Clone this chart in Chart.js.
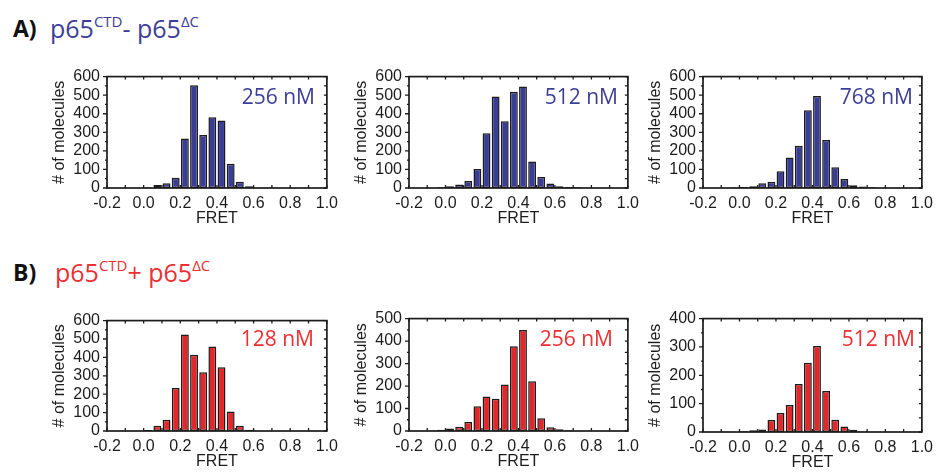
<!DOCTYPE html>
<html lang="en">
<head>
<meta charset="UTF-8">
<title>FRET histograms</title>
<script src="https://cdn.jsdelivr.net/npm/chart.js"></script>
<style>
  body { margin: 0; width: 937px; height: 472px; overflow: hidden; background: #fff; position: relative; font-family: "Open Sans", sans-serif; }
  canvas { position: absolute; }
  .hdr { position: absolute; font-size: 25px; line-height: 25px; white-space: nowrap; }
  .hdr b { position: absolute; left: 0; color: #111; font-size: 23px; }
  .hdr span { position: absolute; }
  .hdr sup { font-size: 15px; vertical-align: 11px; line-height: 0; }
  .blue { color: #3d3e97; }
  .red { color: #ec2f33; }
  .lbl { position: absolute; width: 120px; text-align: right; font-size: 21px; line-height: 21px; }
</style>
</head>
<body>

<div class="hdr" style="left:13px; top:16px;"><b>A)</b><span class="blue" style="left:37px;">p65<sup>CTD</sup>- p65<sup>&Delta;C</sup></span></div>
<div class="hdr" style="left:13px; top:260px;"><b>B)</b><span class="red" style="left:42px;">p65<sup>CTD</sup>+ p65<sup>&Delta;C</sup></span></div>

<canvas id="a1" width="297" height="168" style="left:47px; top:60px;"></canvas>
<canvas id="a2" width="296" height="168" style="left:349px; top:60px;"></canvas>
<canvas id="a3" width="296" height="168" style="left:643px; top:60px;"></canvas>
<canvas id="b1" width="297" height="167" style="left:47px; top:304px;"></canvas>
<canvas id="b2" width="296" height="169" style="left:349px; top:302px;"></canvas>
<canvas id="b3" width="296" height="170" style="left:643px; top:302px;"></canvas>

<div class="lbl blue" style="left:195px; top:86px;">256 nM</div>
<div class="lbl blue" style="left:498px; top:86px;">512 nM</div>
<div class="lbl blue" style="left:793px; top:86px;">768 nM</div>
<div class="lbl red" style="left:194px; top:328px;">128 nM</div>
<div class="lbl red" style="left:493px; top:328px;">256 nM</div>
<div class="lbl red" style="left:795px; top:328px;">512 nM</div>

<script>
// FRET bin centres (bin width 0.05)
const binCenters = [-0.175, -0.125, -0.075, -0.025, 0.025, 0.075, 0.125, 0.175,
                    0.225, 0.275, 0.325, 0.375, 0.425, 0.475, 0.525, 0.575,
                    0.625, 0.675, 0.725, 0.775, 0.825, 0.875, 0.925, 0.975];

// A) p65CTD - p65dC
const countsA256 = [0, 0, 0, 0, 3, 16, 26, 55, 266, 554, 286, 381, 364, 130, 34, 9, 2, 1, 1, 0, 0, 0, 0, 0];
const countsA512 = [0, 0, 0, 4, 10, 19, 38, 102, 295, 493, 360, 519, 547, 143, 59, 24, 10, 6, 4, 2, 0, 0, 0, 0];
const countsA768 = [0, 0, 2, 3, 6, 10, 26, 34, 90, 164, 228, 419, 495, 259, 112, 48, 15, 8, 4, 2, 0, 0, 0, 0];
// B) p65CTD + p65dC
const countsB128 = [0, 0, 0, 2, 5, 28, 61, 234, 525, 414, 319, 459, 347, 106, 28, 7, 2, 0, 0, 0, 0, 0, 0, 0];
const countsB256 = [0, 0, 2, 6, 11, 19, 40, 110, 153, 143, 207, 377, 449, 221, 57, 17, 8, 3, 0, 0, 0, 0, 0, 0];
const countsB512 = [0, 0, 0, 0, 3, 6, 9, 42, 67, 95, 169, 244, 303, 145, 43, 19, 8, 2, 0, 0, 0, 0, 0, 0];

const blueFill = '#3a3d96';
const redFill = '#e3262a';
const inkColor = '#1c1c1c';

// box around the plot with small tick marks like the original figure
const frameTicks = {
    id: 'frameTicks',
    afterDraw(chart) {
        const { ctx, chartArea: a, scales: { x, y } } = chart;
        ctx.save();
        ctx.strokeStyle = inkColor;
        ctx.lineWidth = 1.7;
        ctx.strokeRect(a.left, a.top, a.right - a.left, a.bottom - a.top);
        ctx.lineWidth = 1.3;
        ctx.beginPath();
        const xt = x.ticks.map(t => t.value);
        xt.forEach((v, i) => {
            const vals = [v];
            if (i < xt.length - 1) vals.push((v + xt[i + 1]) / 2);
            vals.forEach(val => {
                const px = x.getPixelForValue(val);
                ctx.moveTo(px, a.bottom); ctx.lineTo(px, a.bottom - 3);
                ctx.moveTo(px, a.top); ctx.lineTo(px, a.top + 3);
            });
        });
        const yt = y.ticks.map(t => t.value);
        yt.forEach((v, i) => {
            const py = y.getPixelForValue(v);
            ctx.moveTo(a.left, py); ctx.lineTo(a.left - 4, py);
            ctx.moveTo(a.right, py); ctx.lineTo(a.right - 3, py);
            if (i < yt.length - 1) {
                const pm = y.getPixelForValue((v + yt[i + 1]) / 2);
                ctx.moveTo(a.left, pm); ctx.lineTo(a.left - 2, pm);
                ctx.moveTo(a.right, pm); ctx.lineTo(a.right - 3, pm);
            }
        });
        ctx.stroke();
        ctx.restore();
    }
};

const tickFont = { family: 'Liberation Sans', size: 16 };

function makeHist(id, counts, fill, yMax) {
    let ctx = document.getElementById(id).getContext('2d');
    return new Chart(ctx, {
        type: 'bar',
        data: {
            datasets: [{
                data: binCenters.map((c, i) => ({ x: c, y: counts[i] })),
                backgroundColor: fill,
                borderColor: inkColor,
                borderWidth: 1.5,
                borderSkipped: false,
                barPercentage: 0.86,
                categoryPercentage: 1
            }]
        },
        options: {
            responsive: false,
            animation: false,
            layout: { padding: { top: 12, right: 14, left: 0, bottom: 0 } },
            plugins: { legend: { display: false }, tooltip: { enabled: false } },
            scales: {
                x: {
                    type: 'linear', min: -0.2, max: 1.0, offset: false,
                    grid: { display: false, drawTicks: false, offset: false },
                    border: { display: false },
                    ticks: { stepSize: 0.2, autoSkip: false, padding: 6, color: inkColor, font: tickFont, maxRotation: 0,
                             callback: v => (Math.abs(v) < 1e-9 ? 0 : v).toFixed(1) },
                    title: { display: true, text: 'FRET', color: inkColor, font: tickFont, padding: { top: 0, bottom: 0 } },
                    afterFit(s) { s.height = 40; }
                },
                y: {
                    min: 0, max: yMax,
                    grid: { display: false, drawTicks: false },
                    border: { display: false },
                    ticks: { stepSize: 100, autoSkip: false, padding: 7, color: inkColor, font: tickFont },
                    title: { display: true, text: '# of molecules', color: inkColor, font: tickFont, padding: { top: 3, bottom: 0 } },
                    afterFit(s) { s.width = 60; }
                }
            }
        },
        plugins: [frameTicks]
    });
}

makeHist('a1', countsA256, blueFill, 600);
makeHist('a2', countsA512, blueFill, 600);
makeHist('a3', countsA768, blueFill, 600);
makeHist('b1', countsB128, redFill, 600);
makeHist('b2', countsB256, redFill, 500);
makeHist('b3', countsB512, redFill, 400);
</script>
</body>
</html>
